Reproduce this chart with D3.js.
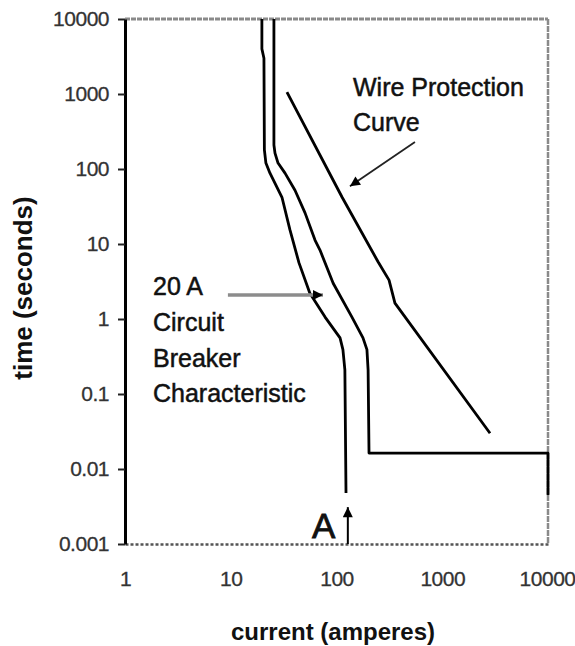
<!DOCTYPE html>
<html>
<head>
<meta charset="utf-8">
<script src="https://cdn.jsdelivr.net/npm/d3@7"></script>
<style>
  body { margin: 0; background: #fff; }
  text { font-family: "Liberation Sans", Arial, sans-serif; }
</style>
</head>
<body>
<div id="viz"></div>
<script>
// tick values
const xTicks = [1, 10, 100, 1000, 10000]
const yTicks = [0.001, 0.01, 0.1, 1, 10, 100, 1000, 10000]

// 20 A breaker, lower band edge [current, time]
const breakerLow = [
  [19.7, 10000], [19.7, 4000], [20.6, 3000], [20.8, 180], [21.5, 120],
  [23.5, 88], [30.5, 42], [36.3, 15.4], [44.2, 5.6], [56, 2.2],
  [78, 1.06], [108, 0.56], [115, 0.39], [120, 0.21], [123, 0.0048]
]

// 20 A breaker, upper band edge
const breakerHigh = [
  [25.6, 10000], [25.6, 209], [26.2, 163], [28, 120], [32.6, 88],
  [40.5, 52], [50.4, 26], [62.6, 11.3], [69.8, 8.3], [81, 4.9],
  [93, 3.0], [140, 1.06], [178, 0.56], [194, 0.39], [199, 0.21],
  [203, 0.0163], [10000, 0.0163], [10000, 0.0045]
]

// wire protection curve
const wireCurve = [
  [34, 1060], [113, 42], [247, 5.8], [314, 3.3], [357, 1.63], [2830, 0.030]
]

// annotation arrows, in data units: [from, to]
const wireArrow = [[552, 229], [134, 59]]
const breakerArrow = [[9.4, 2.09], [74.5, 2.09]]
const pointA = [[128, 0.001], [128, 0.0031]]

const width = 575, height = 646
const margin = {top: 19, right: 27, bottom: 102, left: 125}

const svg = d3.select("#viz").append("svg")
  .attr("width", width)
  .attr("height", height)

const x = d3.scaleLog()
  .domain([1, 10000])
  .range([margin.left, width - margin.right])

const y = d3.scaleLog()
  .domain([0.001, 10000])
  .range([height - margin.bottom, margin.top])

// frame (top, right, bottom are the faint scanned lines)
svg.append("line")
  .attr("x1", x(1)).attr("x2", x(10000))
  .attr("y1", y(10000)).attr("y2", y(10000))
  .attr("stroke", "#8a8a8a").attr("stroke-width", 3)
  .attr("stroke-dasharray", "5,1")
svg.append("line")
  .attr("x1", x(10000)).attr("x2", x(10000))
  .attr("y1", y(10000)).attr("y2", y(0.001))
  .attr("stroke", "#8a8a8a").attr("stroke-width", 2.5)
  .attr("stroke-dasharray", "6,1")

// x axis
const xAxis = svg.append("g")
  .attr("transform", `translate(0, ${y(0.001)})`)
  .call(d3.axisBottom(x).tickValues(xTicks).tickFormat(d3.format("d"))
    .tickSize(0).tickPadding(27))
xAxis.select(".domain")
  .attr("stroke", "#555").attr("stroke-width", 2.5)
  .attr("stroke-dasharray", "3,2")
xAxis.selectAll("text")
  .attr("font-size", 21).attr("fill", "#333")
  .attr("stroke", "#333").attr("stroke-width", 0.3)
  .attr("letter-spacing", -0.5)
  .attr("font-family", "Liberation Sans, Arial, sans-serif")
// last label sits on the right edge, keep it inside the page
xAxis.selectAll("text").filter(d => d === 10000)
  .attr("text-anchor", "end")
  .attr("x", width - x(10000))

// y axis
const yAxis = svg.append("g")
  .attr("transform", `translate(${x(1)}, 0)`)
  .call(d3.axisLeft(y).tickValues(yTicks).tickFormat(d => String(d))
    .tickSize(7).tickSizeOuter(0).tickPadding(9))
yAxis.select(".domain")
  .attr("stroke", "#000").attr("stroke-width", 3)
yAxis.selectAll(".tick line")
  .attr("stroke", "#222").attr("stroke-width", 2)
yAxis.selectAll("text")
  .attr("font-size", 21).attr("fill", "#333")
  .attr("stroke", "#333").attr("stroke-width", 0.3)
  .attr("letter-spacing", -0.5)
  .attr("font-family", "Liberation Sans, Arial, sans-serif")

// curves
const line = d3.line()
  .x(d => x(d[0]))
  .y(d => y(d[1]))

svg.selectAll(".curve")
  .data([breakerLow, breakerHigh, wireCurve])
  .enter()
  .append("path")
  .attr("class", "curve")
  .attr("d", line)
  .attr("fill", "none")
  .attr("stroke", "#000")
  .attr("stroke-width", 2.8)
  .attr("stroke-linejoin", "round")

// arrowheads
const defs = svg.append("defs")
defs.append("marker")
  .attr("id", "head")
  .attr("viewBox", "0 0 10 10")
  .attr("refX", 10).attr("refY", 5)
  .attr("markerWidth", 14).attr("markerHeight", 10)
  .attr("markerUnits", "userSpaceOnUse")
  .attr("orient", "auto")
  .append("path")
  .attr("d", "M0,0 L10,5 L0,10 Z")
  .attr("fill", "#000")

svg.append("line")
  .attr("x1", x(wireArrow[0][0])).attr("y1", y(wireArrow[0][1]))
  .attr("x2", x(wireArrow[1][0])).attr("y2", y(wireArrow[1][1]))
  .attr("stroke", "#222").attr("stroke-width", 1.8)
  .attr("marker-end", "url(#head)")

svg.append("line")
  .attr("x1", x(breakerArrow[0][0])).attr("y1", y(breakerArrow[0][1]))
  .attr("x2", x(breakerArrow[1][0])).attr("y2", y(breakerArrow[1][1]))
  .attr("stroke", "#8c8c8c").attr("stroke-width", 3.5)
  .attr("marker-end", "url(#head)")

svg.append("line")
  .attr("x1", x(pointA[0][0])).attr("y1", y(pointA[0][1]))
  .attr("x2", x(pointA[1][0])).attr("y2", y(pointA[1][1]))
  .attr("stroke", "#000").attr("stroke-width", 2)
  .attr("marker-end", "url(#head)")

// labels
const labels = [
  {t: "Wire Protection", x: 353, y: 96},
  {t: "Curve", x: 353, y: 131},
  {t: "20 A", x: 153, y: 295},
  {t: "Circuit", x: 153, y: 331},
  {t: "Breaker", x: 153, y: 367},
  {t: "Characteristic", x: 153, y: 402}
]
svg.selectAll(".lab")
  .data(labels)
  .enter()
  .append("text")
  .attr("class", "lab")
  .attr("x", d => d.x).attr("y", d => d.y)
  .attr("font-size", 25)
  .attr("fill", "#111")
  .attr("stroke", "#111").attr("stroke-width", 0.5)
  .text(d => d.t)

svg.append("text")
  .attr("x", 312).attr("y", 538)
  .attr("font-size", 35)
  .attr("fill", "#111")
  .attr("stroke", "#111").attr("stroke-width", 0.8)
  .text("A")

// axis titles
svg.append("text")
  .attr("x", 333).attr("y", 640)
  .attr("text-anchor", "middle")
  .attr("font-size", 24).attr("font-weight", "bold")
  .attr("fill", "#111")
  .text("current (amperes)")

svg.append("text")
  .attr("transform", "translate(32, 288) rotate(-90)")
  .attr("text-anchor", "middle")
  .attr("font-size", 26).attr("font-weight", "bold")
  .attr("fill", "#111")
  .text("time (seconds)")
</script>
</body>
</html>
